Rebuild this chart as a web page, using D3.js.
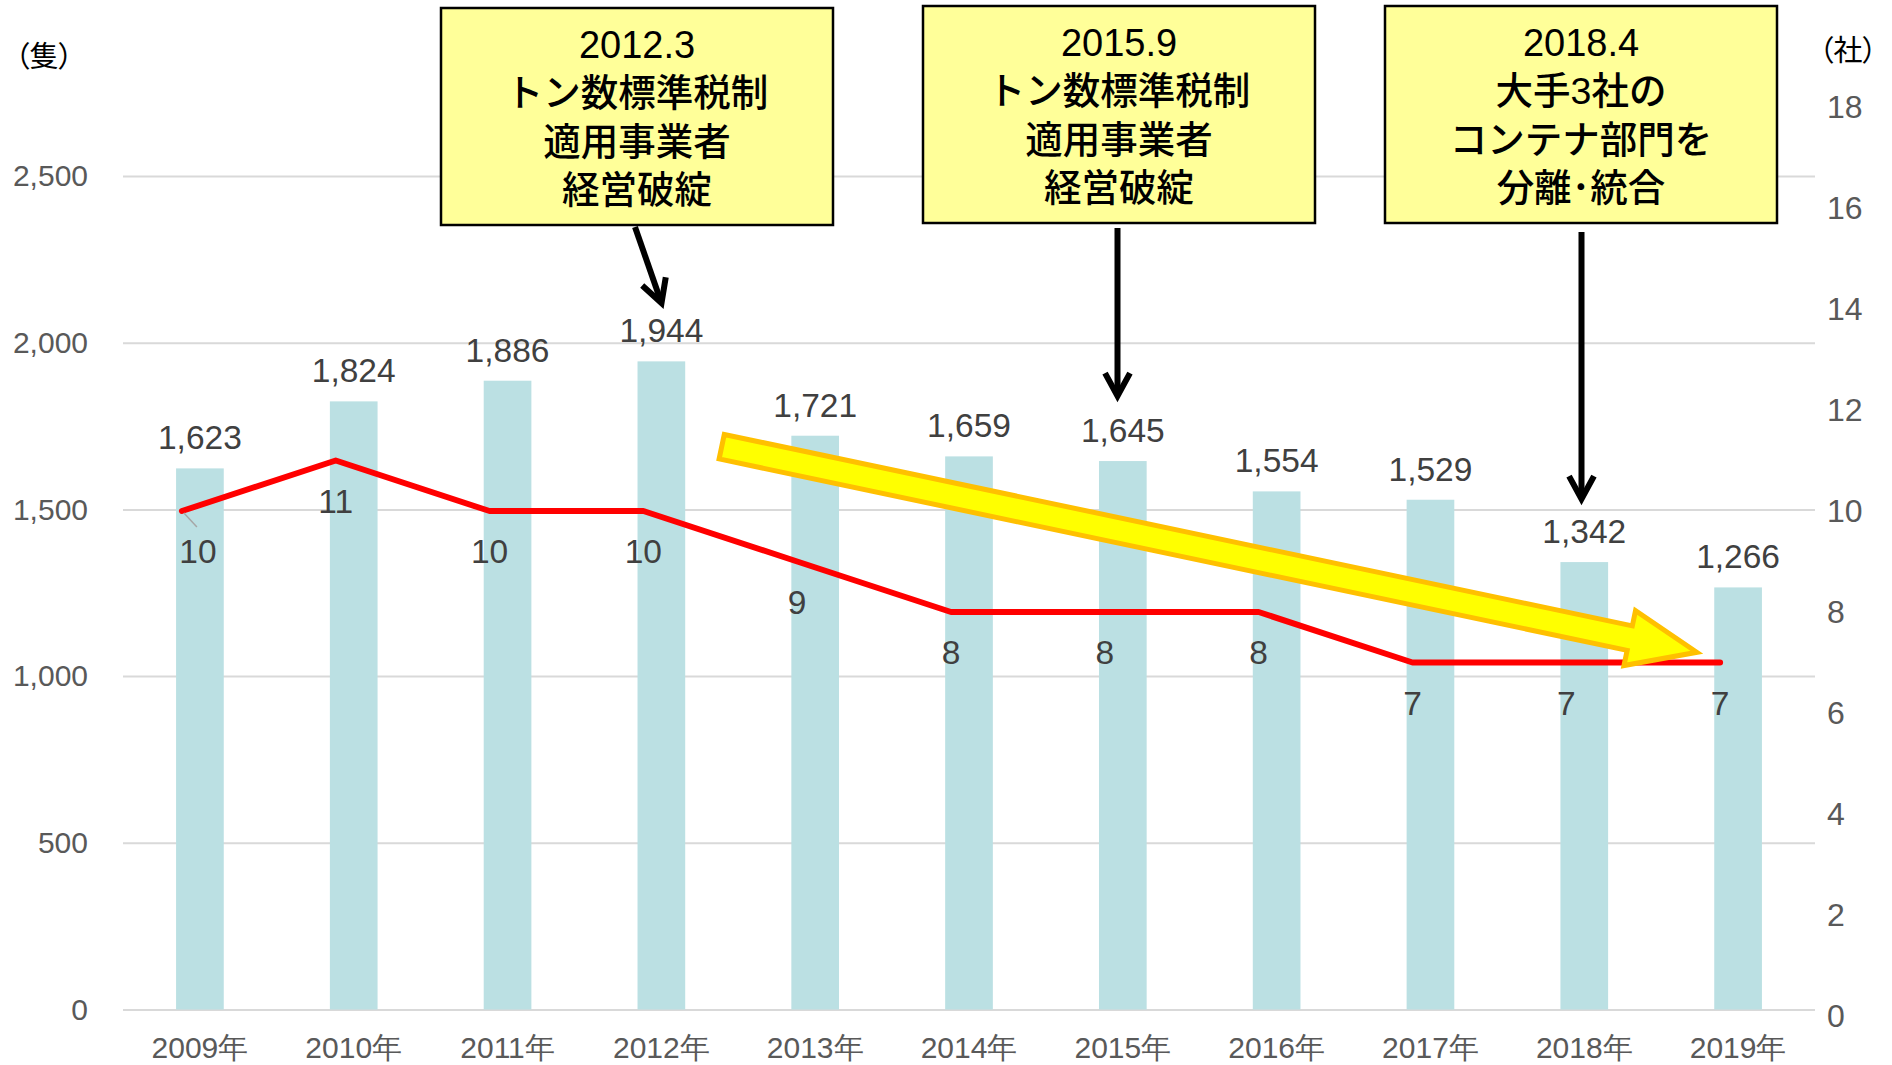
<!DOCTYPE html>
<html lang="ja">
<head>
<meta charset="utf-8">
<title>コンテナ船 隻数と事業者数の推移</title>
<script src="https://cdn.jsdelivr.net/npm/d3@7"></script>
<style>
  html, body { margin: 0; padding: 0; background: #fff; }
  svg { display: block; font-family: "Liberation Sans", Arial, "Noto Sans CJK JP", sans-serif; }
  .cjk { font-feature-settings: "palt"; }
</style>
</head>
<body>
<svg id="chart" width="1892" height="1065"></svg>
<script>
// ---- data ----
const years = ["2009年", "2010年", "2011年", "2012年", "2013年", "2014年", "2015年", "2016年", "2017年", "2018年", "2019年"];
const ships = [1623, 1824, 1886, 1944, 1721, 1659, 1645, 1554, 1529, 1342, 1266];   // 隻
const companies = [10, 11, 10, 10, 9, 8, 8, 8, 7, 7, 7];                          // 社
const leftTicks = [0, 500, 1000, 1500, 2000, 2500];
const rightTicks = [0, 2, 4, 6, 8, 10, 12, 14, 16, 18];
const notes = [
  ["2012.3", "トン数標準税制", "適用事業者", "経営破綻"],
  ["2015.9", "トン数標準税制", "適用事業者", "経営破綻"],
  ["2018.4", "大手3社の", "コンテナ部門を", "分離･統合"]
];

// ---- layout ----
const svg = d3.select("#chart");
const plotL = 123, plotR = 1815;
const fmt = d3.format(",");

const x = d3.scaleBand().domain(years).range([plotL, plotR]).paddingInner(0.69).paddingOuter(0.345);
const yL = d3.scaleLinear().domain([0, 2500]).range([1009.5, 176]);
const yR = d3.scaleLinear().domain([0, 18]).range([1016, 107]);
const cx = d => x(d) + x.bandwidth() / 2;
// the company line sits slightly left of the bar centres
const xLine = d3.scalePoint().domain(years).range([cx(years[0]) - 18, cx(years[years.length - 1]) - 18]);

// ---- gridlines ----
const grid = svg.append("g").attr("transform", `translate(${plotL},0)`)
  .call(d3.axisLeft(yL).tickValues(leftTicks).tickSize(-(plotR - plotL)).tickFormat(""));
grid.select(".domain").remove();
grid.selectAll("line").attr("stroke", "#D9D9D9").attr("stroke-width", 2);

// ---- bars ----
svg.append("g").selectAll("rect").data(ships).join("rect")
  .attr("x", (d, i) => x(years[i]))
  .attr("width", x.bandwidth())
  .attr("y", d => yL(d))
  .attr("height", d => yL(0) - yL(d))
  .attr("fill", "#BBE0E3");

// ---- axes ----
const axL = svg.append("g").attr("transform", `translate(${plotL},0)`)
  .call(d3.axisLeft(yL).tickValues(leftTicks).tickFormat(fmt).tickSize(0).tickPadding(35));
axL.select(".domain").remove();
axL.selectAll("text").attr("font-size", 30).attr("fill", "#595959").attr("font-family", null);

const axR = svg.append("g").attr("transform", `translate(${plotR},0)`)
  .call(d3.axisRight(yR).tickValues(rightTicks).tickSize(0).tickPadding(12));
axR.select(".domain").remove();
axR.selectAll("text").attr("font-size", 32).attr("fill", "#595959").attr("font-family", null);

const axB = svg.append("g").attr("transform", `translate(0,${yL(0)})`)
  .call(d3.axisBottom(x).tickSize(0).tickPadding(27));
axB.select(".domain").remove();
axB.selectAll("text").attr("font-size", 30).attr("fill", "#595959").attr("font-family", null);

// ---- unit labels ----
svg.append("text").attr("class", "cjk").attr("x", 15).attr("y", 67)
  .attr("font-size", 29).attr("fill", "#000").text("（隻）");
svg.append("text").attr("class", "cjk").attr("x", 1819).attr("y", 61)
  .attr("font-size", 29).attr("fill", "#000").text("（社）");

// ---- company line ----
const line = d3.line().x((d, i) => xLine(years[i])).y(d => yR(d));
svg.append("path").datum(companies)
  .attr("d", line)
  .attr("fill", "none")
  .attr("stroke", "#FF0000")
  .attr("stroke-width", 6)
  .attr("stroke-linejoin", "round")
  .attr("stroke-linecap", "round");

// ---- trend block arrow ----
{
  const x0 = 721.7, y0 = 446.7, x1 = 1701.7, y1 = 653.3;
  const len = Math.hypot(x1 - x0, y1 - y0) - 5;
  const ang = Math.atan2(y1 - y0, x1 - x0) * 180 / Math.PI;
  const h = 12.5, H = 28, headBase = 928;
  const pts = [[0, -h], [headBase, -h], [headBase, -H], [len, 0], [headBase, H], [headBase, h], [0, h]];
  svg.append("path")
    .attr("transform", `translate(${x0},${y0}) rotate(${ang})`)
    .attr("d", "M" + pts.map(p => p.join(",")).join("L") + "Z")
    .attr("fill", "#FFFF00")
    .attr("stroke", "#FFC000")
    .attr("stroke-width", 5)
    .attr("stroke-linejoin", "miter");
}

// ---- data labels ----
svg.append("g").selectAll("text").data(ships).join("text")
  .attr("x", (d, i) => cx(years[i]))
  .attr("y", d => yL(d) - 19)
  .attr("text-anchor", "middle")
  .attr("font-size", 33.5)
  .attr("fill", "#404040")
  .text(d => fmt(d));

svg.append("g").selectAll("text").data(companies).join("text")
  .attr("x", (d, i) => xLine(years[i]) + (i === 0 ? 16 : 0))
  .attr("y", d => yR(d) + 52)
  .attr("text-anchor", "middle")
  .attr("font-size", 33.5)
  .attr("fill", "#404040")
  .text(d => d);

// leader for the first company label
svg.append("line")
  .attr("x1", xLine(years[0]) + 2).attr("y1", yR(companies[0]) + 2)
  .attr("x2", xLine(years[0]) + 15).attr("y2", yR(companies[0]) + 16)
  .attr("stroke", "#A6A6A6").attr("stroke-width", 1.5);

// ---- annotation boxes ----
const boxes = [
  { x: 441, y: 8, w: 392, h: 217 },
  { x: 923, y: 6, w: 392, h: 217 },
  { x: 1385, y: 6, w: 392, h: 217 }
];
boxes.forEach((b, k) => {
  const g = svg.append("g");
  g.append("rect").attr("x", b.x).attr("y", b.y).attr("width", b.w).attr("height", b.h)
    .attr("fill", "#FFFF99").attr("stroke", "#000").attr("stroke-width", 2.5);
  g.selectAll("text").data(notes[k]).join("text")
    .attr("x", b.x + b.w / 2)
    .attr("y", (d, i) => b.y + 50 + i * 48.3)
    .attr("text-anchor", "middle")
    .attr("font-size", (d, i) => i === 0 ? 38 : 37.5)
    .attr("font-weight", 500)
    .attr("fill", "#000")
    .text(d => d);
});

// ---- pointer arrows ----
function pointer(xa, ya, xb, yb) {
  const g = svg.append("g").attr("stroke", "#000").attr("stroke-width", 6)
    .attr("fill", "none").attr("stroke-linecap", "butt").attr("stroke-linejoin", "miter");
  const a = Math.atan2(yb - ya, xb - xa);
  const back = 26, spread = 0.5;
  g.append("line").attr("x1", xa).attr("y1", ya).attr("x2", xb - 3 * Math.cos(a)).attr("y2", yb - 3 * Math.sin(a));
  const p1 = [xb - back * Math.cos(a - spread), yb - back * Math.sin(a - spread)];
  const p2 = [xb - back * Math.cos(a + spread), yb - back * Math.sin(a + spread)];
  g.append("path").attr("d", `M${p1}L${xb},${yb}L${p2}`);
}
pointer(635, 227, 661.5, 303);
pointer(1117.5, 228, 1117.5, 396);
pointer(1581.5, 232, 1581.5, 499);
</script>
</body>
</html>
